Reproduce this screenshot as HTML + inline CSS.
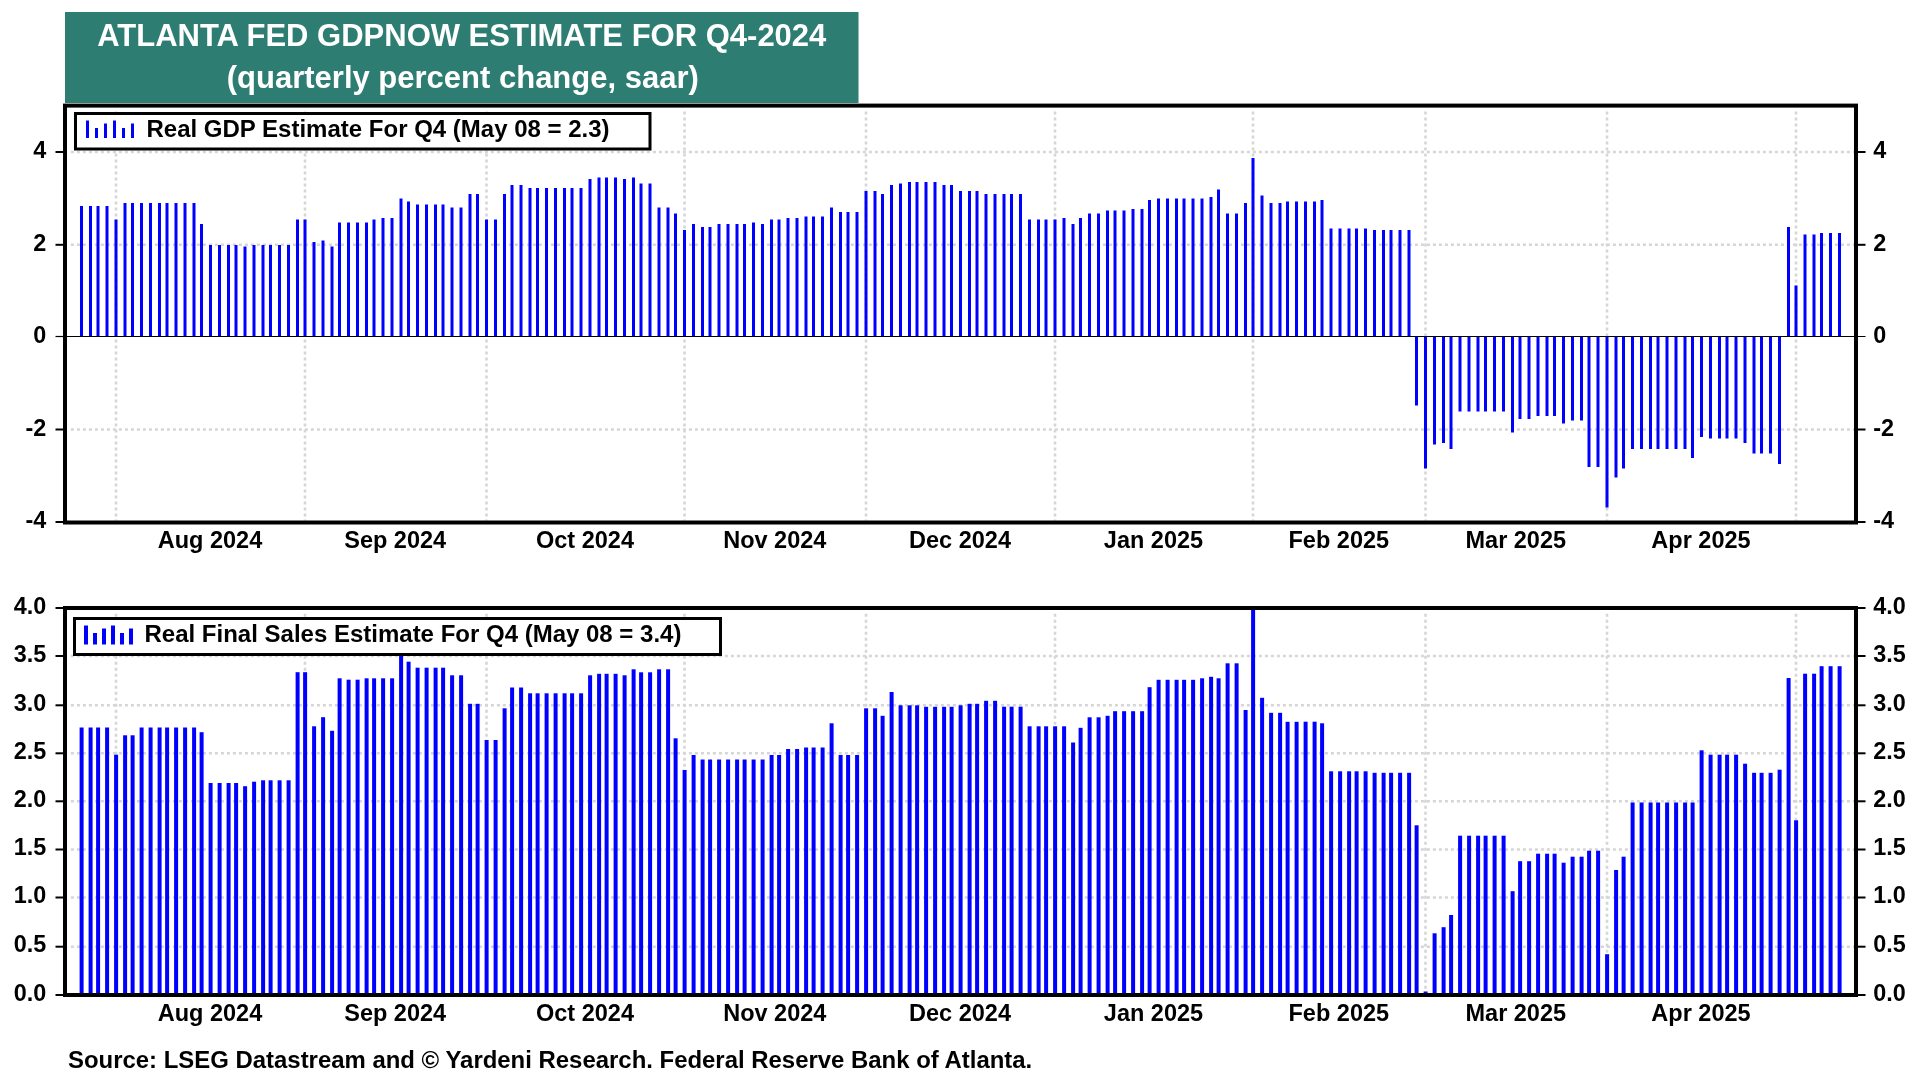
<!DOCTYPE html><html><head><meta charset="utf-8"><title>Atlanta Fed GDPNow</title>
<style>html,body{margin:0;padding:0;background:#fff;}body{width:1920px;height:1080px;overflow:hidden;}svg{display:block;will-change:transform;}text{font-family:"Liberation Sans", Arial, Helvetica, sans-serif;font-weight:700;fill:#000;}</style></head><body>
<svg width="1920" height="1080" viewBox="0 0 1920 1080">
<rect width="1920" height="1080" fill="#fff"/>
<rect x="65" y="12" width="793.5" height="91" fill="#2e7d72"/>
<text x="461.8" y="46.4" text-anchor="middle" font-size="31" style="fill:#fff">ATLANTA FED GDPNOW ESTIMATE FOR Q4-2024</text>
<text x="462.8" y="87.6" text-anchor="middle" font-size="31" style="fill:#fff">(quarterly percent change, saar)</text>
<g stroke="#d6d6d6" stroke-width="2.6" stroke-dasharray="3 3" fill="none">
<line x1="70.9" y1="152.0" x2="1854" y2="152.0"/>
<line x1="70.9" y1="244.8" x2="1854" y2="244.8"/>
<line x1="70.9" y1="429.5" x2="1854" y2="429.5"/>
<line x1="116.0" y1="111.5" x2="116.0" y2="520.5"/>
<line x1="305.0" y1="111.5" x2="305.0" y2="520.5"/>
<line x1="486.5" y1="111.5" x2="486.5" y2="520.5"/>
<line x1="684.5" y1="111.5" x2="684.5" y2="520.5"/>
<line x1="866.0" y1="111.5" x2="866.0" y2="520.5"/>
<line x1="1055.0" y1="111.5" x2="1055.0" y2="520.5"/>
<line x1="1253.0" y1="111.5" x2="1253.0" y2="520.5"/>
<line x1="1425.5" y1="111.5" x2="1425.5" y2="520.5"/>
<line x1="1607.0" y1="111.5" x2="1607.0" y2="520.5"/>
<line x1="1796.0" y1="111.5" x2="1796.0" y2="520.5"/>
</g>
<g fill="#0000ff">
<rect x="80.0" y="206.0" width="3" height="130.5"/>
<rect x="89.0" y="206.0" width="3" height="130.5"/>
<rect x="96.5" y="206.0" width="3" height="130.5"/>
<rect x="105.5" y="206.0" width="3" height="130.5"/>
<rect x="114.5" y="219.5" width="3" height="117.0"/>
<rect x="123.5" y="203.0" width="3" height="133.5"/>
<rect x="131.0" y="203.0" width="3" height="133.5"/>
<rect x="140.0" y="203.0" width="3" height="133.5"/>
<rect x="149.0" y="203.0" width="3" height="133.5"/>
<rect x="158.0" y="203.0" width="3" height="133.5"/>
<rect x="165.5" y="203.0" width="3" height="133.5"/>
<rect x="174.5" y="203.0" width="3" height="133.5"/>
<rect x="183.5" y="203.0" width="3" height="133.5"/>
<rect x="192.5" y="203.0" width="3" height="133.5"/>
<rect x="200.0" y="224.0" width="3" height="112.5"/>
<rect x="209.0" y="245.0" width="3" height="91.5"/>
<rect x="218.0" y="245.0" width="3" height="91.5"/>
<rect x="227.0" y="245.0" width="3" height="91.5"/>
<rect x="234.5" y="245.0" width="3" height="91.5"/>
<rect x="243.5" y="246.5" width="3" height="90.0"/>
<rect x="252.5" y="245.0" width="3" height="91.5"/>
<rect x="261.5" y="245.0" width="3" height="91.5"/>
<rect x="269.0" y="245.0" width="3" height="91.5"/>
<rect x="278.0" y="245.0" width="3" height="91.5"/>
<rect x="287.0" y="245.0" width="3" height="91.5"/>
<rect x="296.0" y="219.5" width="3" height="117.0"/>
<rect x="303.5" y="219.5" width="3" height="117.0"/>
<rect x="312.5" y="242.0" width="3" height="94.5"/>
<rect x="321.5" y="240.5" width="3" height="96.0"/>
<rect x="330.5" y="246.5" width="3" height="90.0"/>
<rect x="338.0" y="222.5" width="3" height="114.0"/>
<rect x="347.0" y="222.5" width="3" height="114.0"/>
<rect x="356.0" y="222.5" width="3" height="114.0"/>
<rect x="365.0" y="222.5" width="3" height="114.0"/>
<rect x="372.5" y="219.5" width="3" height="117.0"/>
<rect x="381.5" y="218.0" width="3" height="118.5"/>
<rect x="390.5" y="218.0" width="3" height="118.5"/>
<rect x="399.5" y="198.5" width="3" height="138.0"/>
<rect x="407.0" y="201.5" width="3" height="135.0"/>
<rect x="416.0" y="204.5" width="3" height="132.0"/>
<rect x="425.0" y="204.5" width="3" height="132.0"/>
<rect x="434.0" y="204.5" width="3" height="132.0"/>
<rect x="441.5" y="204.5" width="3" height="132.0"/>
<rect x="450.5" y="207.5" width="3" height="129.0"/>
<rect x="459.5" y="207.5" width="3" height="129.0"/>
<rect x="468.5" y="194.0" width="3" height="142.5"/>
<rect x="476.0" y="194.0" width="3" height="142.5"/>
<rect x="485.0" y="219.5" width="3" height="117.0"/>
<rect x="494.0" y="219.5" width="3" height="117.0"/>
<rect x="503.0" y="194.0" width="3" height="142.5"/>
<rect x="510.5" y="185.0" width="3" height="151.5"/>
<rect x="519.5" y="185.0" width="3" height="151.5"/>
<rect x="528.5" y="188.0" width="3" height="148.5"/>
<rect x="536.0" y="188.0" width="3" height="148.5"/>
<rect x="545.0" y="188.0" width="3" height="148.5"/>
<rect x="554.0" y="188.0" width="3" height="148.5"/>
<rect x="563.0" y="188.0" width="3" height="148.5"/>
<rect x="570.5" y="188.0" width="3" height="148.5"/>
<rect x="579.5" y="188.0" width="3" height="148.5"/>
<rect x="588.5" y="179.0" width="3" height="157.5"/>
<rect x="597.5" y="177.5" width="3" height="159.0"/>
<rect x="605.0" y="177.5" width="3" height="159.0"/>
<rect x="614.0" y="177.5" width="3" height="159.0"/>
<rect x="623.0" y="179.0" width="3" height="157.5"/>
<rect x="632.0" y="177.5" width="3" height="159.0"/>
<rect x="639.5" y="183.5" width="3" height="153.0"/>
<rect x="648.5" y="183.5" width="3" height="153.0"/>
<rect x="657.5" y="207.5" width="3" height="129.0"/>
<rect x="666.5" y="207.5" width="3" height="129.0"/>
<rect x="674.0" y="213.5" width="3" height="123.0"/>
<rect x="683.0" y="230.0" width="3" height="106.5"/>
<rect x="692.0" y="224.0" width="3" height="112.5"/>
<rect x="701.0" y="227.0" width="3" height="109.5"/>
<rect x="708.5" y="227.0" width="3" height="109.5"/>
<rect x="717.5" y="224.0" width="3" height="112.5"/>
<rect x="726.5" y="224.0" width="3" height="112.5"/>
<rect x="735.5" y="224.0" width="3" height="112.5"/>
<rect x="743.0" y="224.0" width="3" height="112.5"/>
<rect x="752.0" y="222.5" width="3" height="114.0"/>
<rect x="761.0" y="224.0" width="3" height="112.5"/>
<rect x="770.0" y="219.5" width="3" height="117.0"/>
<rect x="777.5" y="219.5" width="3" height="117.0"/>
<rect x="786.5" y="218.0" width="3" height="118.5"/>
<rect x="795.5" y="218.0" width="3" height="118.5"/>
<rect x="804.5" y="216.5" width="3" height="120.0"/>
<rect x="812.0" y="216.5" width="3" height="120.0"/>
<rect x="821.0" y="216.5" width="3" height="120.0"/>
<rect x="830.0" y="207.5" width="3" height="129.0"/>
<rect x="839.0" y="212.0" width="3" height="124.5"/>
<rect x="846.5" y="212.0" width="3" height="124.5"/>
<rect x="855.5" y="212.0" width="3" height="124.5"/>
<rect x="864.5" y="191.0" width="3" height="145.5"/>
<rect x="873.5" y="191.0" width="3" height="145.5"/>
<rect x="881.0" y="194.0" width="3" height="142.5"/>
<rect x="890.0" y="185.0" width="3" height="151.5"/>
<rect x="899.0" y="183.5" width="3" height="153.0"/>
<rect x="908.0" y="182.0" width="3" height="154.5"/>
<rect x="915.5" y="182.0" width="3" height="154.5"/>
<rect x="924.5" y="182.0" width="3" height="154.5"/>
<rect x="933.5" y="182.0" width="3" height="154.5"/>
<rect x="942.5" y="185.0" width="3" height="151.5"/>
<rect x="950.0" y="185.0" width="3" height="151.5"/>
<rect x="959.0" y="191.0" width="3" height="145.5"/>
<rect x="968.0" y="191.0" width="3" height="145.5"/>
<rect x="975.5" y="191.0" width="3" height="145.5"/>
<rect x="984.5" y="194.0" width="3" height="142.5"/>
<rect x="993.5" y="194.0" width="3" height="142.5"/>
<rect x="1002.5" y="194.0" width="3" height="142.5"/>
<rect x="1010.0" y="194.0" width="3" height="142.5"/>
<rect x="1019.0" y="194.0" width="3" height="142.5"/>
<rect x="1028.0" y="219.5" width="3" height="117.0"/>
<rect x="1037.0" y="219.5" width="3" height="117.0"/>
<rect x="1044.5" y="219.5" width="3" height="117.0"/>
<rect x="1053.5" y="219.5" width="3" height="117.0"/>
<rect x="1062.5" y="218.0" width="3" height="118.5"/>
<rect x="1071.5" y="224.0" width="3" height="112.5"/>
<rect x="1079.0" y="218.0" width="3" height="118.5"/>
<rect x="1088.0" y="213.5" width="3" height="123.0"/>
<rect x="1097.0" y="213.5" width="3" height="123.0"/>
<rect x="1106.0" y="210.5" width="3" height="126.0"/>
<rect x="1113.5" y="210.5" width="3" height="126.0"/>
<rect x="1122.5" y="210.5" width="3" height="126.0"/>
<rect x="1131.5" y="209.0" width="3" height="127.5"/>
<rect x="1140.5" y="209.0" width="3" height="127.5"/>
<rect x="1148.0" y="200.0" width="3" height="136.5"/>
<rect x="1157.0" y="198.5" width="3" height="138.0"/>
<rect x="1166.0" y="198.5" width="3" height="138.0"/>
<rect x="1175.0" y="198.5" width="3" height="138.0"/>
<rect x="1182.5" y="198.5" width="3" height="138.0"/>
<rect x="1191.5" y="198.5" width="3" height="138.0"/>
<rect x="1200.5" y="198.5" width="3" height="138.0"/>
<rect x="1209.5" y="197.0" width="3" height="139.5"/>
<rect x="1217.0" y="189.5" width="3" height="147.0"/>
<rect x="1226.0" y="213.5" width="3" height="123.0"/>
<rect x="1235.0" y="213.5" width="3" height="123.0"/>
<rect x="1244.0" y="203.0" width="3" height="133.5"/>
<rect x="1251.5" y="158.0" width="3" height="178.5"/>
<rect x="1260.5" y="195.5" width="3" height="141.0"/>
<rect x="1269.5" y="203.0" width="3" height="133.5"/>
<rect x="1278.5" y="203.0" width="3" height="133.5"/>
<rect x="1286.0" y="201.5" width="3" height="135.0"/>
<rect x="1295.0" y="201.5" width="3" height="135.0"/>
<rect x="1304.0" y="201.5" width="3" height="135.0"/>
<rect x="1313.0" y="201.5" width="3" height="135.0"/>
<rect x="1320.5" y="200.0" width="3" height="136.5"/>
<rect x="1329.5" y="228.5" width="3" height="108.0"/>
<rect x="1338.5" y="228.5" width="3" height="108.0"/>
<rect x="1347.5" y="228.5" width="3" height="108.0"/>
<rect x="1355.0" y="228.5" width="3" height="108.0"/>
<rect x="1364.0" y="228.5" width="3" height="108.0"/>
<rect x="1373.0" y="230.0" width="3" height="106.5"/>
<rect x="1382.0" y="230.0" width="3" height="106.5"/>
<rect x="1389.5" y="230.0" width="3" height="106.5"/>
<rect x="1398.5" y="230.0" width="3" height="106.5"/>
<rect x="1407.5" y="230.0" width="3" height="106.5"/>
<rect x="1415.0" y="336.5" width="3" height="69.0"/>
<rect x="1424.0" y="336.5" width="3" height="132.0"/>
<rect x="1433.0" y="336.5" width="3" height="108.0"/>
<rect x="1442.0" y="336.5" width="3" height="106.5"/>
<rect x="1449.5" y="336.5" width="3" height="112.5"/>
<rect x="1458.5" y="336.5" width="3" height="75.0"/>
<rect x="1467.5" y="336.5" width="3" height="75.0"/>
<rect x="1476.5" y="336.5" width="3" height="75.0"/>
<rect x="1484.0" y="336.5" width="3" height="75.0"/>
<rect x="1493.0" y="336.5" width="3" height="75.0"/>
<rect x="1502.0" y="336.5" width="3" height="75.0"/>
<rect x="1511.0" y="336.5" width="3" height="96.0"/>
<rect x="1518.5" y="336.5" width="3" height="82.5"/>
<rect x="1527.5" y="336.5" width="3" height="82.5"/>
<rect x="1536.5" y="336.5" width="3" height="79.5"/>
<rect x="1545.5" y="336.5" width="3" height="79.5"/>
<rect x="1553.0" y="336.5" width="3" height="79.5"/>
<rect x="1562.0" y="336.5" width="3" height="87.0"/>
<rect x="1571.0" y="336.5" width="3" height="84.0"/>
<rect x="1580.0" y="336.5" width="3" height="84.0"/>
<rect x="1587.5" y="336.5" width="3" height="130.5"/>
<rect x="1596.5" y="336.5" width="3" height="130.5"/>
<rect x="1605.5" y="336.5" width="3" height="171.0"/>
<rect x="1614.5" y="336.5" width="3" height="141.0"/>
<rect x="1622.0" y="336.5" width="3" height="132.0"/>
<rect x="1631.0" y="336.5" width="3" height="112.5"/>
<rect x="1640.0" y="336.5" width="3" height="112.5"/>
<rect x="1649.0" y="336.5" width="3" height="112.5"/>
<rect x="1656.5" y="336.5" width="3" height="112.5"/>
<rect x="1665.5" y="336.5" width="3" height="112.5"/>
<rect x="1674.5" y="336.5" width="3" height="112.5"/>
<rect x="1683.5" y="336.5" width="3" height="112.5"/>
<rect x="1691.0" y="336.5" width="3" height="121.5"/>
<rect x="1700.0" y="336.5" width="3" height="100.5"/>
<rect x="1709.0" y="336.5" width="3" height="102.0"/>
<rect x="1718.0" y="336.5" width="3" height="102.0"/>
<rect x="1725.5" y="336.5" width="3" height="102.0"/>
<rect x="1734.5" y="336.5" width="3" height="102.0"/>
<rect x="1743.5" y="336.5" width="3" height="106.5"/>
<rect x="1752.5" y="336.5" width="3" height="117.0"/>
<rect x="1760.0" y="336.5" width="3" height="117.0"/>
<rect x="1769.0" y="336.5" width="3" height="117.0"/>
<rect x="1778.0" y="336.5" width="3" height="127.5"/>
<rect x="1787.0" y="227.0" width="3" height="109.5"/>
<rect x="1794.5" y="285.5" width="3" height="51.0"/>
<rect x="1803.5" y="234.5" width="3" height="102.0"/>
<rect x="1812.5" y="234.5" width="3" height="102.0"/>
<rect x="1820.0" y="233.0" width="3" height="103.5"/>
<rect x="1829.0" y="233.0" width="3" height="103.5"/>
<rect x="1838.0" y="233.0" width="3" height="103.5"/>
</g>
<line x1="65" y1="336.5" x2="1865.5" y2="336.5" stroke="#000" stroke-width="1.2"/>
<g stroke="#000" stroke-width="2">
<line x1="55.5" y1="152.0" x2="64" y2="152.0"/>
<line x1="1857" y1="152.0" x2="1865.5" y2="152.0"/>
<line x1="55.5" y1="244.8" x2="64" y2="244.8"/>
<line x1="1857" y1="244.8" x2="1865.5" y2="244.8"/>
<line x1="55.5" y1="429.5" x2="64" y2="429.5"/>
<line x1="1857" y1="429.5" x2="1865.5" y2="429.5"/>
<line x1="55.5" y1="522.0" x2="64" y2="522.0"/>
<line x1="1857" y1="522.0" x2="1865.5" y2="522.0"/>
</g>
<line x1="55.5" y1="336.5" x2="64" y2="336.5" stroke="#000" stroke-width="1.2"/>
<rect x="65.0" y="105.6" width="1791.0" height="416.9" fill="none" stroke="#000" stroke-width="4"/>
<text x="46.3" y="158.1" text-anchor="end" font-size="23.4">4</text>
<text x="1873.3" y="158.1" text-anchor="start" font-size="23.4">4</text>
<text x="46.3" y="250.8" text-anchor="end" font-size="23.4">2</text>
<text x="1873.3" y="250.8" text-anchor="start" font-size="23.4">2</text>
<text x="46.3" y="342.6" text-anchor="end" font-size="23.4">0</text>
<text x="1873.3" y="342.6" text-anchor="start" font-size="23.4">0</text>
<text x="46.3" y="435.6" text-anchor="end" font-size="23.4">-2</text>
<text x="1873.3" y="435.6" text-anchor="start" font-size="23.4">-2</text>
<text x="46.3" y="528.1" text-anchor="end" font-size="23.4">-4</text>
<text x="1873.3" y="528.1" text-anchor="start" font-size="23.4">-4</text>
<text x="210.0" y="548.2" text-anchor="middle" font-size="23.5">Aug 2024</text>
<text x="395.2" y="548.2" text-anchor="middle" font-size="23.5">Sep 2024</text>
<text x="585.0" y="548.2" text-anchor="middle" font-size="23.5">Oct 2024</text>
<text x="774.8" y="548.2" text-anchor="middle" font-size="23.5">Nov 2024</text>
<text x="960.0" y="548.2" text-anchor="middle" font-size="23.5">Dec 2024</text>
<text x="1153.5" y="548.2" text-anchor="middle" font-size="23.5">Jan 2025</text>
<text x="1338.8" y="548.2" text-anchor="middle" font-size="23.5">Feb 2025</text>
<text x="1515.8" y="548.2" text-anchor="middle" font-size="23.5">Mar 2025</text>
<text x="1701.0" y="548.2" text-anchor="middle" font-size="23.5">Apr 2025</text>
<rect x="75.5" y="113.5" width="574.5" height="35.5" fill="#fff" stroke="#000" stroke-width="3"/>
<rect x="86.0" y="120.5" width="3" height="17.5" fill="#0000ff"/>
<rect x="95.0" y="128.0" width="3" height="10.0" fill="#0000ff"/>
<rect x="104.0" y="123.5" width="3" height="14.5" fill="#0000ff"/>
<rect x="113.0" y="120.5" width="3" height="17.5" fill="#0000ff"/>
<rect x="122.0" y="128.0" width="3" height="10.0" fill="#0000ff"/>
<rect x="131.0" y="123.5" width="3" height="14.5" fill="#0000ff"/>
<text x="146.5" y="137.0" font-size="24">Real GDP Estimate For Q4 (May 08 = 2.3)</text>
<g stroke="#d6d6d6" stroke-width="2.6" stroke-dasharray="3 3" fill="none">
<line x1="70.9" y1="656.0" x2="1854" y2="656.0"/>
<line x1="70.9" y1="705.3" x2="1854" y2="705.3"/>
<line x1="70.9" y1="753.3" x2="1854" y2="753.3"/>
<line x1="70.9" y1="801.3" x2="1854" y2="801.3"/>
<line x1="70.9" y1="849.5" x2="1854" y2="849.5"/>
<line x1="70.9" y1="897.5" x2="1854" y2="897.5"/>
<line x1="70.9" y1="946.7" x2="1854" y2="946.7"/>
<line x1="116.0" y1="613.7" x2="116.0" y2="993.0"/>
<line x1="305.0" y1="613.7" x2="305.0" y2="993.0"/>
<line x1="486.5" y1="613.7" x2="486.5" y2="993.0"/>
<line x1="684.5" y1="613.7" x2="684.5" y2="993.0"/>
<line x1="866.0" y1="613.7" x2="866.0" y2="993.0"/>
<line x1="1055.0" y1="613.7" x2="1055.0" y2="993.0"/>
<line x1="1253.0" y1="613.7" x2="1253.0" y2="993.0"/>
<line x1="1425.5" y1="613.7" x2="1425.5" y2="993.0"/>
<line x1="1607.0" y1="613.7" x2="1607.0" y2="993.0"/>
<line x1="1796.0" y1="613.7" x2="1796.0" y2="993.0"/>
</g>
<g fill="#0000ff">
<rect x="79.6" y="727.5" width="4" height="267.5"/>
<rect x="88.6" y="727.5" width="4" height="267.5"/>
<rect x="96.1" y="727.5" width="4" height="267.5"/>
<rect x="105.1" y="727.5" width="4" height="267.5"/>
<rect x="114.1" y="754.7" width="4" height="240.3"/>
<rect x="123.1" y="735.3" width="4" height="259.7"/>
<rect x="130.6" y="735.3" width="4" height="259.7"/>
<rect x="139.6" y="727.5" width="4" height="267.5"/>
<rect x="148.6" y="727.5" width="4" height="267.5"/>
<rect x="157.6" y="727.5" width="4" height="267.5"/>
<rect x="165.1" y="727.5" width="4" height="267.5"/>
<rect x="174.1" y="727.5" width="4" height="267.5"/>
<rect x="183.1" y="727.5" width="4" height="267.5"/>
<rect x="192.1" y="727.5" width="4" height="267.5"/>
<rect x="199.6" y="732.2" width="4" height="262.8"/>
<rect x="208.6" y="783.0" width="4" height="212.0"/>
<rect x="217.6" y="783.0" width="4" height="212.0"/>
<rect x="226.6" y="783.0" width="4" height="212.0"/>
<rect x="234.1" y="783.0" width="4" height="212.0"/>
<rect x="243.1" y="786.2" width="4" height="208.8"/>
<rect x="252.1" y="781.7" width="4" height="213.3"/>
<rect x="261.1" y="780.3" width="4" height="214.7"/>
<rect x="268.6" y="780.3" width="4" height="214.7"/>
<rect x="277.6" y="780.3" width="4" height="214.7"/>
<rect x="286.6" y="780.3" width="4" height="214.7"/>
<rect x="295.6" y="672.2" width="4" height="322.8"/>
<rect x="303.1" y="672.2" width="4" height="322.8"/>
<rect x="312.1" y="726.3" width="4" height="268.7"/>
<rect x="321.1" y="717.2" width="4" height="277.8"/>
<rect x="330.1" y="730.8" width="4" height="264.2"/>
<rect x="337.6" y="678.3" width="4" height="316.7"/>
<rect x="346.6" y="679.7" width="4" height="315.3"/>
<rect x="355.6" y="679.7" width="4" height="315.3"/>
<rect x="364.6" y="678.3" width="4" height="316.7"/>
<rect x="372.1" y="678.3" width="4" height="316.7"/>
<rect x="381.1" y="678.3" width="4" height="316.7"/>
<rect x="390.1" y="678.3" width="4" height="316.7"/>
<rect x="399.1" y="650.0" width="4" height="345.0"/>
<rect x="406.6" y="661.7" width="4" height="333.3"/>
<rect x="415.6" y="667.7" width="4" height="327.3"/>
<rect x="424.6" y="667.7" width="4" height="327.3"/>
<rect x="433.6" y="667.7" width="4" height="327.3"/>
<rect x="441.1" y="667.7" width="4" height="327.3"/>
<rect x="450.1" y="675.3" width="4" height="319.7"/>
<rect x="459.1" y="675.3" width="4" height="319.7"/>
<rect x="468.1" y="703.8" width="4" height="291.2"/>
<rect x="475.6" y="703.8" width="4" height="291.2"/>
<rect x="484.6" y="740.0" width="4" height="255.0"/>
<rect x="493.6" y="740.0" width="4" height="255.0"/>
<rect x="502.6" y="708.3" width="4" height="286.7"/>
<rect x="510.1" y="687.5" width="4" height="307.5"/>
<rect x="519.1" y="687.5" width="4" height="307.5"/>
<rect x="528.1" y="693.3" width="4" height="301.7"/>
<rect x="535.6" y="693.3" width="4" height="301.7"/>
<rect x="544.6" y="693.3" width="4" height="301.7"/>
<rect x="553.6" y="693.3" width="4" height="301.7"/>
<rect x="562.6" y="693.3" width="4" height="301.7"/>
<rect x="570.1" y="693.3" width="4" height="301.7"/>
<rect x="579.1" y="693.3" width="4" height="301.7"/>
<rect x="588.1" y="675.3" width="4" height="319.7"/>
<rect x="597.1" y="673.8" width="4" height="321.2"/>
<rect x="604.6" y="673.8" width="4" height="321.2"/>
<rect x="613.6" y="673.8" width="4" height="321.2"/>
<rect x="622.6" y="675.3" width="4" height="319.7"/>
<rect x="631.6" y="669.3" width="4" height="325.7"/>
<rect x="639.1" y="672.3" width="4" height="322.7"/>
<rect x="648.1" y="672.3" width="4" height="322.7"/>
<rect x="657.1" y="669.3" width="4" height="325.7"/>
<rect x="666.1" y="669.3" width="4" height="325.7"/>
<rect x="673.6" y="738.3" width="4" height="256.7"/>
<rect x="682.6" y="770.0" width="4" height="225.0"/>
<rect x="691.6" y="755.0" width="4" height="240.0"/>
<rect x="700.6" y="759.5" width="4" height="235.5"/>
<rect x="708.1" y="759.5" width="4" height="235.5"/>
<rect x="717.1" y="759.5" width="4" height="235.5"/>
<rect x="726.1" y="759.5" width="4" height="235.5"/>
<rect x="735.1" y="759.5" width="4" height="235.5"/>
<rect x="742.6" y="759.5" width="4" height="235.5"/>
<rect x="751.6" y="759.5" width="4" height="235.5"/>
<rect x="760.6" y="759.5" width="4" height="235.5"/>
<rect x="769.6" y="755.0" width="4" height="240.0"/>
<rect x="777.1" y="755.0" width="4" height="240.0"/>
<rect x="786.1" y="749.0" width="4" height="246.0"/>
<rect x="795.1" y="749.0" width="4" height="246.0"/>
<rect x="804.1" y="747.5" width="4" height="247.5"/>
<rect x="811.6" y="747.5" width="4" height="247.5"/>
<rect x="820.6" y="747.5" width="4" height="247.5"/>
<rect x="829.6" y="723.3" width="4" height="271.7"/>
<rect x="838.6" y="755.0" width="4" height="240.0"/>
<rect x="846.1" y="755.0" width="4" height="240.0"/>
<rect x="855.1" y="755.0" width="4" height="240.0"/>
<rect x="864.1" y="708.3" width="4" height="286.7"/>
<rect x="873.1" y="708.3" width="4" height="286.7"/>
<rect x="880.6" y="715.8" width="4" height="279.2"/>
<rect x="889.6" y="692.0" width="4" height="303.0"/>
<rect x="898.6" y="705.3" width="4" height="289.7"/>
<rect x="907.6" y="705.3" width="4" height="289.7"/>
<rect x="915.1" y="705.3" width="4" height="289.7"/>
<rect x="924.1" y="706.8" width="4" height="288.2"/>
<rect x="933.1" y="706.8" width="4" height="288.2"/>
<rect x="942.1" y="706.8" width="4" height="288.2"/>
<rect x="949.6" y="706.8" width="4" height="288.2"/>
<rect x="958.6" y="705.3" width="4" height="289.7"/>
<rect x="967.6" y="703.8" width="4" height="291.2"/>
<rect x="975.1" y="703.8" width="4" height="291.2"/>
<rect x="984.1" y="700.8" width="4" height="294.2"/>
<rect x="993.1" y="700.8" width="4" height="294.2"/>
<rect x="1002.1" y="706.7" width="4" height="288.3"/>
<rect x="1009.6" y="706.7" width="4" height="288.3"/>
<rect x="1018.6" y="706.7" width="4" height="288.3"/>
<rect x="1027.6" y="726.3" width="4" height="268.7"/>
<rect x="1036.6" y="726.3" width="4" height="268.7"/>
<rect x="1044.1" y="726.3" width="4" height="268.7"/>
<rect x="1053.1" y="726.3" width="4" height="268.7"/>
<rect x="1062.1" y="726.3" width="4" height="268.7"/>
<rect x="1071.1" y="742.5" width="4" height="252.5"/>
<rect x="1078.6" y="727.8" width="4" height="267.2"/>
<rect x="1087.6" y="717.3" width="4" height="277.7"/>
<rect x="1096.6" y="717.3" width="4" height="277.7"/>
<rect x="1105.6" y="715.8" width="4" height="279.2"/>
<rect x="1113.1" y="711.2" width="4" height="283.8"/>
<rect x="1122.1" y="711.2" width="4" height="283.8"/>
<rect x="1131.1" y="711.2" width="4" height="283.8"/>
<rect x="1140.1" y="711.2" width="4" height="283.8"/>
<rect x="1147.6" y="687.2" width="4" height="307.8"/>
<rect x="1156.6" y="679.8" width="4" height="315.2"/>
<rect x="1165.6" y="679.8" width="4" height="315.2"/>
<rect x="1174.6" y="679.8" width="4" height="315.2"/>
<rect x="1182.1" y="679.8" width="4" height="315.2"/>
<rect x="1191.1" y="679.8" width="4" height="315.2"/>
<rect x="1200.1" y="678.3" width="4" height="316.7"/>
<rect x="1209.1" y="676.8" width="4" height="318.2"/>
<rect x="1216.6" y="678.3" width="4" height="316.7"/>
<rect x="1225.6" y="663.3" width="4" height="331.7"/>
<rect x="1234.6" y="663.3" width="4" height="331.7"/>
<rect x="1243.6" y="710.0" width="4" height="285.0"/>
<rect x="1251.1" y="610.0" width="4" height="385.0"/>
<rect x="1260.1" y="697.8" width="4" height="297.2"/>
<rect x="1269.1" y="712.8" width="4" height="282.2"/>
<rect x="1278.1" y="712.8" width="4" height="282.2"/>
<rect x="1285.6" y="721.8" width="4" height="273.2"/>
<rect x="1294.6" y="721.8" width="4" height="273.2"/>
<rect x="1303.6" y="721.7" width="4" height="273.3"/>
<rect x="1312.6" y="721.7" width="4" height="273.3"/>
<rect x="1320.1" y="723.3" width="4" height="271.7"/>
<rect x="1329.1" y="771.3" width="4" height="223.7"/>
<rect x="1338.1" y="771.3" width="4" height="223.7"/>
<rect x="1347.1" y="771.3" width="4" height="223.7"/>
<rect x="1354.6" y="771.3" width="4" height="223.7"/>
<rect x="1363.6" y="771.3" width="4" height="223.7"/>
<rect x="1372.6" y="772.8" width="4" height="222.2"/>
<rect x="1381.6" y="772.8" width="4" height="222.2"/>
<rect x="1389.1" y="772.8" width="4" height="222.2"/>
<rect x="1398.1" y="772.8" width="4" height="222.2"/>
<rect x="1407.1" y="772.8" width="4" height="222.2"/>
<rect x="1414.6" y="825.3" width="4" height="169.7"/>
<rect x="1423.6" y="991.5" width="4" height="3.5"/>
<rect x="1432.6" y="933.3" width="4" height="61.7"/>
<rect x="1441.6" y="927.2" width="4" height="67.8"/>
<rect x="1449.1" y="915.0" width="4" height="80.0"/>
<rect x="1458.1" y="835.7" width="4" height="159.3"/>
<rect x="1467.1" y="835.7" width="4" height="159.3"/>
<rect x="1476.1" y="835.7" width="4" height="159.3"/>
<rect x="1483.6" y="835.7" width="4" height="159.3"/>
<rect x="1492.6" y="835.7" width="4" height="159.3"/>
<rect x="1501.6" y="835.7" width="4" height="159.3"/>
<rect x="1510.6" y="891.2" width="4" height="103.8"/>
<rect x="1518.1" y="861.2" width="4" height="133.8"/>
<rect x="1527.1" y="861.2" width="4" height="133.8"/>
<rect x="1536.1" y="853.7" width="4" height="141.3"/>
<rect x="1545.1" y="853.7" width="4" height="141.3"/>
<rect x="1552.6" y="853.7" width="4" height="141.3"/>
<rect x="1561.6" y="862.7" width="4" height="132.3"/>
<rect x="1570.6" y="856.7" width="4" height="138.3"/>
<rect x="1579.6" y="856.7" width="4" height="138.3"/>
<rect x="1587.1" y="850.7" width="4" height="144.3"/>
<rect x="1596.1" y="850.7" width="4" height="144.3"/>
<rect x="1605.1" y="954.2" width="4" height="40.8"/>
<rect x="1614.1" y="870.0" width="4" height="125.0"/>
<rect x="1621.6" y="856.7" width="4" height="138.3"/>
<rect x="1630.6" y="802.5" width="4" height="192.5"/>
<rect x="1639.6" y="802.5" width="4" height="192.5"/>
<rect x="1648.6" y="802.5" width="4" height="192.5"/>
<rect x="1656.1" y="802.5" width="4" height="192.5"/>
<rect x="1665.1" y="802.5" width="4" height="192.5"/>
<rect x="1674.1" y="802.5" width="4" height="192.5"/>
<rect x="1683.1" y="802.5" width="4" height="192.5"/>
<rect x="1690.6" y="802.5" width="4" height="192.5"/>
<rect x="1699.6" y="750.3" width="4" height="244.7"/>
<rect x="1708.6" y="754.7" width="4" height="240.3"/>
<rect x="1717.6" y="754.7" width="4" height="240.3"/>
<rect x="1725.1" y="754.7" width="4" height="240.3"/>
<rect x="1734.1" y="754.7" width="4" height="240.3"/>
<rect x="1743.1" y="763.7" width="4" height="231.3"/>
<rect x="1752.1" y="772.8" width="4" height="222.2"/>
<rect x="1759.6" y="772.8" width="4" height="222.2"/>
<rect x="1768.6" y="772.8" width="4" height="222.2"/>
<rect x="1777.6" y="769.7" width="4" height="225.3"/>
<rect x="1786.6" y="678.0" width="4" height="317.0"/>
<rect x="1794.1" y="820.3" width="4" height="174.7"/>
<rect x="1803.1" y="673.7" width="4" height="321.3"/>
<rect x="1812.1" y="673.7" width="4" height="321.3"/>
<rect x="1819.6" y="666.2" width="4" height="328.8"/>
<rect x="1828.6" y="666.2" width="4" height="328.8"/>
<rect x="1837.6" y="666.2" width="4" height="328.8"/>
</g>
<g stroke="#000" stroke-width="2">
<line x1="55.5" y1="608.0" x2="64" y2="608.0"/>
<line x1="1857" y1="608.0" x2="1865.5" y2="608.0"/>
<line x1="55.5" y1="656.0" x2="64" y2="656.0"/>
<line x1="1857" y1="656.0" x2="1865.5" y2="656.0"/>
<line x1="55.5" y1="705.3" x2="64" y2="705.3"/>
<line x1="1857" y1="705.3" x2="1865.5" y2="705.3"/>
<line x1="55.5" y1="753.3" x2="64" y2="753.3"/>
<line x1="1857" y1="753.3" x2="1865.5" y2="753.3"/>
<line x1="55.5" y1="801.3" x2="64" y2="801.3"/>
<line x1="1857" y1="801.3" x2="1865.5" y2="801.3"/>
<line x1="55.5" y1="849.5" x2="64" y2="849.5"/>
<line x1="1857" y1="849.5" x2="1865.5" y2="849.5"/>
<line x1="55.5" y1="897.5" x2="64" y2="897.5"/>
<line x1="1857" y1="897.5" x2="1865.5" y2="897.5"/>
<line x1="55.5" y1="946.7" x2="64" y2="946.7"/>
<line x1="1857" y1="946.7" x2="1865.5" y2="946.7"/>
<line x1="55.5" y1="995.0" x2="64" y2="995.0"/>
<line x1="1857" y1="995.0" x2="1865.5" y2="995.0"/>
</g>
<rect x="65.0" y="608.0" width="1791.0" height="387.0" fill="none" stroke="#000" stroke-width="4"/>
<text x="46.3" y="613.7" text-anchor="end" font-size="23.4">4.0</text>
<text x="1873.3" y="613.7" text-anchor="start" font-size="23.4">4.0</text>
<text x="46.3" y="661.7" text-anchor="end" font-size="23.4">3.5</text>
<text x="1873.3" y="661.7" text-anchor="start" font-size="23.4">3.5</text>
<text x="46.3" y="711.0" text-anchor="end" font-size="23.4">3.0</text>
<text x="1873.3" y="711.0" text-anchor="start" font-size="23.4">3.0</text>
<text x="46.3" y="759.0" text-anchor="end" font-size="23.4">2.5</text>
<text x="1873.3" y="759.0" text-anchor="start" font-size="23.4">2.5</text>
<text x="46.3" y="807.0" text-anchor="end" font-size="23.4">2.0</text>
<text x="1873.3" y="807.0" text-anchor="start" font-size="23.4">2.0</text>
<text x="46.3" y="855.2" text-anchor="end" font-size="23.4">1.5</text>
<text x="1873.3" y="855.2" text-anchor="start" font-size="23.4">1.5</text>
<text x="46.3" y="903.2" text-anchor="end" font-size="23.4">1.0</text>
<text x="1873.3" y="903.2" text-anchor="start" font-size="23.4">1.0</text>
<text x="46.3" y="952.4" text-anchor="end" font-size="23.4">0.5</text>
<text x="1873.3" y="952.4" text-anchor="start" font-size="23.4">0.5</text>
<text x="46.3" y="1000.7" text-anchor="end" font-size="23.4">0.0</text>
<text x="1873.3" y="1000.7" text-anchor="start" font-size="23.4">0.0</text>
<text x="210.0" y="1020.7" text-anchor="middle" font-size="23.5">Aug 2024</text>
<text x="395.2" y="1020.7" text-anchor="middle" font-size="23.5">Sep 2024</text>
<text x="585.0" y="1020.7" text-anchor="middle" font-size="23.5">Oct 2024</text>
<text x="774.8" y="1020.7" text-anchor="middle" font-size="23.5">Nov 2024</text>
<text x="960.0" y="1020.7" text-anchor="middle" font-size="23.5">Dec 2024</text>
<text x="1153.5" y="1020.7" text-anchor="middle" font-size="23.5">Jan 2025</text>
<text x="1338.8" y="1020.7" text-anchor="middle" font-size="23.5">Feb 2025</text>
<text x="1515.8" y="1020.7" text-anchor="middle" font-size="23.5">Mar 2025</text>
<text x="1701.0" y="1020.7" text-anchor="middle" font-size="23.5">Apr 2025</text>
<rect x="74.5" y="618.5" width="646.0" height="36.0" fill="#fff" stroke="#000" stroke-width="3"/>
<rect x="84.0" y="625.5" width="4" height="19.0" fill="#0000ff"/>
<rect x="93.0" y="633.0" width="4" height="11.5" fill="#0000ff"/>
<rect x="102.0" y="628.5" width="4" height="16.0" fill="#0000ff"/>
<rect x="111.0" y="625.5" width="4" height="19.0" fill="#0000ff"/>
<rect x="120.0" y="633.0" width="4" height="11.5" fill="#0000ff"/>
<rect x="129.0" y="628.5" width="4" height="16.0" fill="#0000ff"/>
<text x="144.5" y="642.0" font-size="24">Real Final Sales Estimate For Q4 (May 08 = 3.4)</text>
<text x="68" y="1068.2" font-size="23.93">Source: LSEG Datastream and © Yardeni Research. Federal Reserve Bank of Atlanta.</text>
</svg></body></html>
